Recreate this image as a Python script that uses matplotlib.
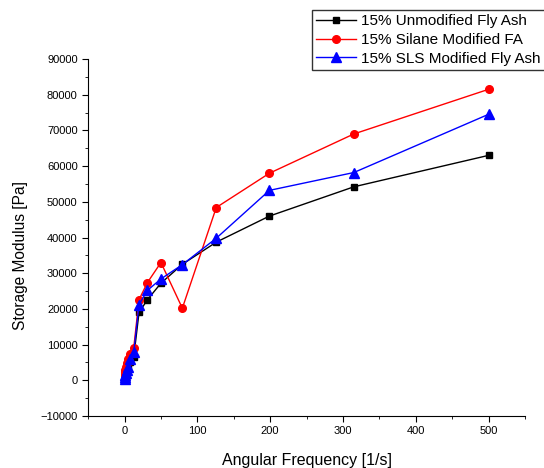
import matplotlib.pyplot as plt
from matplotlib.ticker import MultipleLocator

# angular frequency [1/s]
freq = [0.5, 0.794, 1.26, 2.0, 3.15, 5.0, 7.94, 12.6, 19.9, 31.5, 50.0, 79.4, 126.0, 199.0, 315.0, 500.0]

unmodified = [800, 1200, 1700, 2300, 3000, 3900, 5000, 6500, 19000, 22600, 27200, 32500, 38700, 46000, 54200, 63000]
silane = [1500, 2200, 3000, 3800, 4800, 6000, 7500, 9000, 22600, 27400, 33000, 20200, 48400, 58000, 69000, 81500]
sls = [500, 900, 1400, 2000, 2800, 3800, 6000, 7800, 21200, 25200, 28400, 32400, 39800, 53200, 58200, 74500]

plt.rcParams["font.family"] = ["Liberation Sans", "DejaVu Sans"]

fig = plt.figure(figsize=(5.44, 4.68), dpi=100)
ax = fig.add_axes([0.162, 0.111, 0.803, 0.763])

l1, = ax.plot(freq, unmodified, color="black", marker="s", markersize=5, linewidth=1,
              label="15% Unmodified Fly Ash")
l2, = ax.plot(freq, silane, color="red", marker="o", markersize=5.5, linewidth=1,
              label="15% Silane Modified FA")
l3, = ax.plot(freq, sls, color="blue", marker="^", markersize=6.5, linewidth=1,
              label="15% SLS Modified Fly Ash")

ax.set_xlim(-50, 550)
ax.set_ylim(-10000, 90000)
ax.xaxis.set_major_locator(MultipleLocator(100))
ax.xaxis.set_minor_locator(MultipleLocator(50))
ax.yaxis.set_major_locator(MultipleLocator(10000))
ax.yaxis.set_minor_locator(MultipleLocator(5000))
ax.tick_params(which="major", direction="out", length=4, labelsize=8)
ax.tick_params(which="minor", direction="out", length=2)

ax.spines["top"].set_visible(False)
ax.spines["right"].set_visible(False)

ax.set_xlabel("Angular Frequency [1/s]", fontsize=11.5, labelpad=12)
ax.set_ylabel("Storage Modulus [Pa]", fontsize=11.2)
ax.yaxis.set_label_coords(-0.137, 0.45)

fig.legend(handles=[l1, l2, l3], loc="upper left", bbox_to_anchor=(0.573, 0.979),
           fontsize=11, frameon=True, fancybox=False, edgecolor="black",
           handlelength=2.6, borderpad=0.3, labelspacing=0.3, handletextpad=0.35,
           borderaxespad=0)

fig.savefig("out.png", dpi=100)
